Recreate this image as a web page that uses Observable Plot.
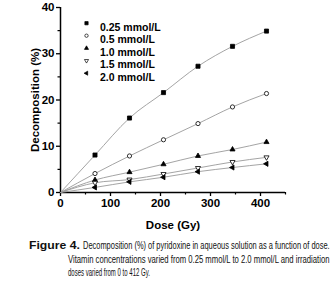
<!DOCTYPE html>
<html><head><meta charset="utf-8">
<script src="https://cdn.jsdelivr.net/npm/d3@7"></script>
<script src="https://cdn.jsdelivr.net/npm/@observablehq/plot@0.6"></script>
<style>body{margin:0;background:#fff} svg{display:block} #cap text{font-family:"Liberation Sans Narrow","Liberation Sans",Arial,sans-serif;fill:#111}</style>
</head><body><div id="chart"></div>
<svg id="cap" width="336" height="57">
  <text data-x="29" data-y="15" data-w="51" font-weight="bold" font-size="11.5" font-family="Liberation Sans">Figure 4.</text>
  <text data-x="83" data-y="15" data-w="247" font-size="10">Decomposition (%) of pyridoxine in aqueous solution as a function of dose.</text>
  <text data-x="68" data-y="29" data-w="262" font-size="10">Vitamin concentrations varied from 0.25 mmol/L to 2.0 mmol/L and irradiation</text>
  <text data-x="68" data-y="42" data-w="82" font-size="10">doses varied from 0 to 412 Gy.</text>
</svg>
<script>
const doses = [0, 69, 138, 206, 275, 344, 412];
const concentrations = ["0.25 mmol/L", "0.5 mmol/L", "1.0 mmol/L", "1.5 mmol/L", "2.0 mmol/L"];
const s025 = [0, 8.1, 16.1, 21.6, 27.3, 31.6, 34.9];
const s05  = [0, 4.1, 7.9, 11.4, 14.9, 18.5, 21.4];
const s10  = [0, 2.7, 4.4, 6.1, 7.9, 9.3, 10.9];
const s15  = [0, 2.1, 2.8, 4.0, 5.3, 6.6, 7.6];
const s20  = [0, 1.1, 2.3, 3.3, 4.5, 5.4, 6.2];
const xTicks = [0, 100, 200, 300, 400];
const xMinor = [50, 150, 250, 350, 450];
const yTicks = [0, 10, 20, 30, 40];
const yMinor = [5, 15, 25, 35];

const seriesValues = [s025, s05, s10, s15, s20];
const styles = [
  {symbol: "square", fill: "black", rotate: 0, r: 2.3},
  {symbol: "circle", fill: "white", rotate: 0, r: 2.1},
  {symbol: "triangle", fill: "black", rotate: 0, r: 1.9},
  {symbol: "triangle", fill: "white", rotate: 180, r: 1.9},
  {symbol: "triangle", fill: "black", rotate: -90, r: 1.9}
];
const data = [];
seriesValues.forEach((vals, i) => vals.forEach((v, j) => data.push({series: concentrations[i], si: i, dose: doses[j], value: v})));

const marks = [];
styles.forEach((st, i) => {
  const rows = data.filter(d => d.si === i);
  marks.push(Plot.line(rows, {x: "dose", y: "value", stroke: "#9a9a9a", strokeWidth: 0.9, curve: "monotone-x"}));
  marks.push(Plot.dot(rows.filter(d => d.dose > 0), {x: "dose", y: "value", symbol: st.symbol, fill: st.fill, stroke: "black", strokeWidth: 0.8, r: st.r, rotate: st.rotate}));
  marks.push(Plot.dot([concentrations[i]], {frameAnchor: "top-left", dx: 26, dy: 15.7 + 12.5 * i, symbol: st.symbol, fill: st.fill, stroke: "black", strokeWidth: 0.7, r: st.r * 0.8, rotate: st.rotate}));
  marks.push(Plot.text([concentrations[i]], {frameAnchor: "top-left", text: d => d, dx: 39.5, dy: 15.7 + 12.5 * i, textAnchor: "start", fontWeight: "bold", fontSize: 10.5}));
});

const chart = Plot.plot({
  width: 336,
  height: 234,
  marginLeft: 60,
  marginRight: 51,
  marginTop: 7,
  marginBottom: 42,
  style: {fontFamily: "'Liberation Sans', Arial, sans-serif", fontWeight: "bold", fontSize: "11.5px", color: "black", background: "white"},
  x: {domain: [0, 450]},
  y: {domain: [0, 40]},
  marks: [
    Plot.axisX({ticks: xTicks, tickSize: 4, strokeWidth: 1.3, tickPadding: 2, tickFormat: d => d, label: "Dose (Gy)", labelAnchor: "center", labelArrow: "none", labelOffset: 36}),
    Plot.axisX({ticks: xMinor, tickSize: 2.5, strokeWidth: 1.2, tickFormat: () => "", label: null}),
    Plot.axisY({ticks: yTicks, tickSize: 4, strokeWidth: 1.3, tickPadding: 2, tickFormat: d => d, label: "Decomposition (%)", labelAnchor: "center", labelArrow: "none", labelOffset: 30}),
    Plot.axisY({ticks: yMinor, tickSize: 2.5, strokeWidth: 1.2, tickFormat: () => "", label: null}),
    Plot.ruleY([0], {strokeWidth: 1.5}),
    Plot.ruleX([0], {strokeWidth: 1.5}),
    ...marks
  ]
});
document.getElementById("chart").appendChild(chart);

// fit caption lines horizontally to their measured widths in the reference
document.querySelectorAll("#cap text").forEach(t => {
  const w0 = t.getComputedTextLength();
  const k = (+t.dataset.w) / w0;
  t.setAttribute("transform", `translate(${t.dataset.x},${t.dataset.y}) scale(${k},1)`);
});
</script>
</body></html>
